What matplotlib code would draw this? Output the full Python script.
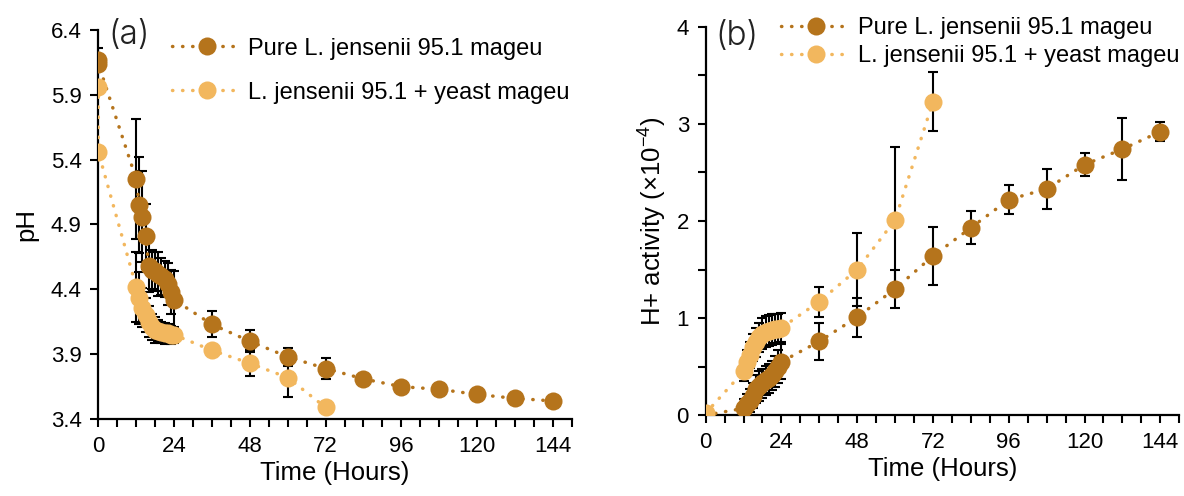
import matplotlib
matplotlib.use("Agg")
import matplotlib.pyplot as plt
from matplotlib.ticker import MultipleLocator, FormatStrFormatter

plt.rcParams['font.family'] = ['Liberation Sans', 'DejaVu Sans']
plt.rcParams['mathtext.fontset'] = 'custom'
plt.rcParams['mathtext.rm'] = 'Liberation Sans'
plt.rcParams['mathtext.it'] = 'Liberation Sans'

# legend labels
label_pure = "Pure L. jensenii 95.1 mageu"
label_yeast = "L. jensenii 95.1 + yeast mageu"

# (a) pH
pure_t_a = [0, 0, 12, 13, 14, 15, 16, 17, 18, 19, 20, 21, 22, 23, 24,
            36, 48, 60, 72, 84, 96, 108, 120, 132, 144]
pure_ph = [6.17, 6.14, 5.25, 5.05, 4.96, 4.81, 4.58, 4.55, 4.54, 4.52, 4.50, 4.48, 4.44, 4.38, 4.32,
           4.13, 4.00, 3.88, 3.79, 3.71, 3.65, 3.63, 3.59, 3.56, 3.54]
pure_ph_err = [0.09, 0.03, 0.46, 0.37, 0.35, 0.25, 0.2, 0.15, 0.15, 0.17, 0.14, 0.14, 0.16, 0.17, 0.22,
               0.1, 0.085, 0.07, 0.08, 0.02, 0.02, 0.02, 0.02, 0.02, 0.02]

yeast_t_a = [0, 0, 12, 13, 14, 15, 16, 17, 18, 19, 20, 21, 22, 23, 24, 36, 48, 60, 72]
yeast_ph = [5.96, 5.46, 4.42, 4.33, 4.26, 4.20, 4.15, 4.11, 4.09, 4.08, 4.07, 4.06, 4.06, 4.05, 4.05,
            3.93, 3.83, 3.72, 3.49]
yeast_ph_err = [0.01, 0.02, 0.27, 0.2, 0.15, 0.13, 0.12, 0.1, 0.1, 0.08, 0.08, 0.08, 0.07, 0.07, 0.06,
                0.04, 0.1, 0.15, 0.01]

# (b) H+ activity (x10^-4)
pure_t_b = [0, 12, 13, 14, 15, 16, 17, 18, 19, 20, 21, 22, 23, 24,
            36, 48, 60, 72, 84, 96, 108, 120, 132, 144]
pure_h = [0, 0.07, 0.12, 0.15, 0.20, 0.27, 0.30, 0.33, 0.36, 0.38, 0.41, 0.45, 0.50, 0.55,
          0.76, 1.01, 1.30, 1.64, 1.93, 2.22, 2.33, 2.58, 2.74, 2.92]
pure_h_err = [0, 0.1, 0.1, 0.12, 0.13, 0.14, 0.15, 0.15, 0.15, 0.15, 0.15, 0.16, 0.17, 0.18,
              0.19, 0.2, 0.2, 0.3, 0.17, 0.15, 0.21, 0.12, 0.32, 0.1]

yeast_t_b = [0, 12, 13, 14, 15, 16, 17, 18, 19, 20, 21, 22, 23, 24, 36, 48, 60, 72]
yeast_h = [0.02, 0.45, 0.55, 0.62, 0.70, 0.75, 0.80, 0.84, 0.86, 0.87, 0.88, 0.89, 0.89, 0.90,
           1.17, 1.50, 2.01, 3.23]
yeast_h_err = [0, 0.1, 0.12, 0.13, 0.14, 0.15, 0.15, 0.16, 0.16, 0.16, 0.16, 0.15, 0.15, 0.15,
               0.155, 0.38, 0.75, 0.3]

dark = "#B5741C"
light = "#F2B75E"
dots = (0, (0.1, 2.8))

fig = plt.figure(figsize=(11.84, 4.96), dpi=100)
ax1 = fig.add_axes([0.083, 0.155, 0.400, 0.785])
ax2 = fig.add_axes([0.596, 0.163, 0.400, 0.783])


def draw_series(ax, t, y, err, color, label):
    ax.errorbar(t, y, yerr=err, fmt='none', ecolor='black', elinewidth=1.5,
                capsize=3.5, capthick=1.5, zorder=2)
    ax.plot(t, y, linestyle=dots, dash_capstyle='round', linewidth=2.5, color=color,
            marker='o', markersize=13, markeredgewidth=0, label=label, zorder=3)


def style_axes(ax):
    for s in ['top', 'right']:
        ax.spines[s].set_visible(False)
    for s in ['left', 'bottom']:
        ax.spines[s].set_linewidth(1.6)
    ax.set_xlim(0, 150)
    ax.xaxis.set_major_locator(MultipleLocator(24))
    ax.xaxis.set_minor_locator(MultipleLocator(6))
    ax.tick_params(which='both', direction='out', width=1.5, length=6, labelsize=16, pad=6)
    ax.set_xlabel("Time (Hours)", fontsize=18.5, labelpad=3)


draw_series(ax1, pure_t_a, pure_ph, pure_ph_err, dark, label_pure)
draw_series(ax1, yeast_t_a, yeast_ph, yeast_ph_err, light, label_yeast)
style_axes(ax1)
ax1.set_ylim(3.4, 6.4)
ax1.set_yticks([3.4, 3.9, 4.4, 4.9, 5.4, 5.9, 6.4])
ax1.yaxis.set_major_formatter(FormatStrFormatter('%.1f'))
ax1.set_ylabel("pH", fontsize=18.5, labelpad=9)
ax1.text(0.021, 0.987, "(a)", transform=ax1.transAxes, fontsize=24, fontfamily='Inter',
         fontweight=300, color='#222222', va='center', ha='left')
ax1.legend(loc='upper left', bbox_to_anchor=(0.156, 0.98), frameon=False, fontsize=17,
           handlelength=2.93, handletextpad=0.3, labelspacing=0.93, borderpad=0,
           borderaxespad=0)

draw_series(ax2, pure_t_b, pure_h, pure_h_err, dark, label_pure)
draw_series(ax2, yeast_t_b, yeast_h, yeast_h_err, light, label_yeast)
style_axes(ax2)
ax2.set_ylim(0, 4)
ax2.yaxis.set_major_locator(MultipleLocator(1))
ax2.yaxis.set_minor_locator(MultipleLocator(0.5))
ax2.set_ylabel(r"H+ activity (×10$^{-4}$)", fontsize=18.5, labelpad=5.5)
ax2.text(0.021, 0.975, "(b)", transform=ax2.transAxes, fontsize=24, fontfamily='Inter',
         fontweight=300, color='#222222', va='center', ha='left')
ax2.legend(loc='upper left', bbox_to_anchor=(0.160, 1.024), frameon=False, fontsize=17,
           handlelength=2.93, handletextpad=0.3, labelspacing=0.25, borderpad=0,
           borderaxespad=0)

fig.savefig("out.png", dpi=100)
